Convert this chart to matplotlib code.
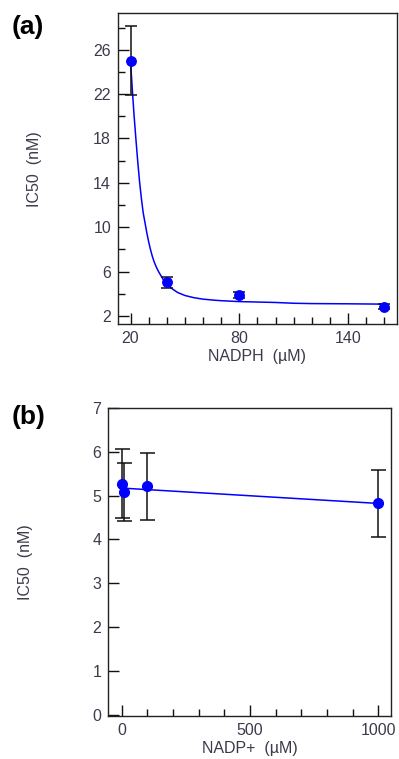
import matplotlib
matplotlib.use("Agg")
import matplotlib.pyplot as plt
from matplotlib.ticker import FixedLocator, MultipleLocator

# ---- data panel (a) ----
nadph_x = [20, 40, 80, 160]
nadph_ic50 = [25.0, 5.05, 3.88, 2.84]
nadph_err = [3.1, 0.5, 0.3, 0.2]
# fitted curve
fit_a_x = [20, 21, 22, 23, 24, 25, 26, 27, 28, 29, 30, 31, 32, 33, 34, 35, 36, 38, 40,
           43, 46, 50, 55, 60, 66, 70, 80, 100, 110, 120, 140, 160]
fit_a_y = [25.0, 22.4, 20.0, 17.9, 15.9, 14.1, 12.6, 11.3, 10.4, 9.5, 8.7, 8.0, 7.4, 6.9,
           6.5, 6.15, 5.85, 5.3, 4.9, 4.45, 4.12, 3.85, 3.65, 3.52, 3.43, 3.38, 3.3, 3.22,
           3.15, 3.12, 3.1, 3.07]

# ---- data panel (b) ----
nadp_x = [0, 10, 100, 1000]
nadp_ic50 = [5.27, 5.08, 5.21, 4.82]
nadp_err = [0.78, 0.65, 0.76, 0.77]
fit_b_x = [0, 1000]
fit_b_y = [5.17, 4.82]

a_xticks = [20, 80, 140]
a_yticks = [2, 6, 10, 14, 18, 22, 26]
b_xticks = [0, 500, 1000]
b_yticks = [0, 1, 2, 3, 4, 5, 6, 7]

plt.rcParams['font.family'] = ['Liberation Sans', 'DejaVu Sans']
txt = '#3b3b4b'
blue = '#0000ff'

W, H = 399, 759
fig = plt.figure(figsize=(W / 100, H / 100), dpi=100)

def px_axes(l, t, r, b):
    return fig.add_axes([l / W, 1 - b / H, (r - l) / W, (b - t) / H])

def style(ax):
    for s in ax.spines.values():
        s.set_color('#222222')
        s.set_linewidth(1.0)
    ax.tick_params(which='both', direction='in', top=False, right=False,
                   color='#111111', width=1.0, labelcolor=txt, labelsize=11.5)
    ax.tick_params(which='major', length=8, pad=5)
    ax.tick_params(which='minor', length=5)

# panel (a)
ax1 = px_axes(118, 13, 397, 324)
ax1.plot(fit_a_x, fit_a_y, color=blue, lw=1.1, zorder=2)
ax1.errorbar(nadph_x, nadph_ic50, yerr=nadph_err, fmt='o', color=blue, ms=6.8,
             ecolor='#111111', elinewidth=1.1, capsize=4, capthick=1.1, zorder=3)
ax1.set_xlim(13.1, 167)
ax1.set_ylim(1.28, 29.31)
ax1.xaxis.set_major_locator(FixedLocator(a_xticks))
ax1.xaxis.set_minor_locator(MultipleLocator(10))
ax1.yaxis.set_major_locator(FixedLocator(a_yticks))
ax1.yaxis.set_minor_locator(FixedLocator([4, 8, 12, 16, 20, 24, 28]))
style(ax1)
ax1.set_xlabel('NADPH  (µM)', color=txt, fontsize=11.5, labelpad=2)
ax1.set_ylabel('IC50  (nM)', color=txt, fontsize=11.5)
ax1.yaxis.set_label_coords(42 / W, 1 - 169 / H, transform=fig.transFigure)

# panel (b)
ax2 = px_axes(108.3, 407.7, 390.7, 716)
ax2.plot(fit_b_x, fit_b_y, color=blue, lw=1.1, zorder=2)
ax2.errorbar(nadp_x, nadp_ic50, yerr=nadp_err, fmt='o', color=blue, ms=7,
             ecolor='#111111', elinewidth=1.1, capsize=5.4, capthick=1.1, zorder=3)
ax2.set_xlim(-52, 1048)
ax2.set_ylim(-0.02, 7.0)
ax2.xaxis.set_major_locator(FixedLocator(b_xticks))
ax2.xaxis.set_minor_locator(MultipleLocator(100))
ax2.yaxis.set_major_locator(FixedLocator(b_yticks))
style(ax2)
ax2.set_xlabel('NADP+  (µM)', color=txt, fontsize=11.5, labelpad=2)
ax2.set_ylabel('IC50  (nM)', color=txt, fontsize=11.5)
ax2.yaxis.set_label_coords(33 / W, 1 - 562 / H, transform=fig.transFigure)

fig.text(12 / W, 1 - 27 / H, '(a)', fontsize=19, fontweight='bold', ha='left', va='center')
fig.text(12 / W, 1 - 417 / H, '(b)', fontsize=19, fontweight='bold', ha='left', va='center')

fig.savefig('out.png', dpi=100)
